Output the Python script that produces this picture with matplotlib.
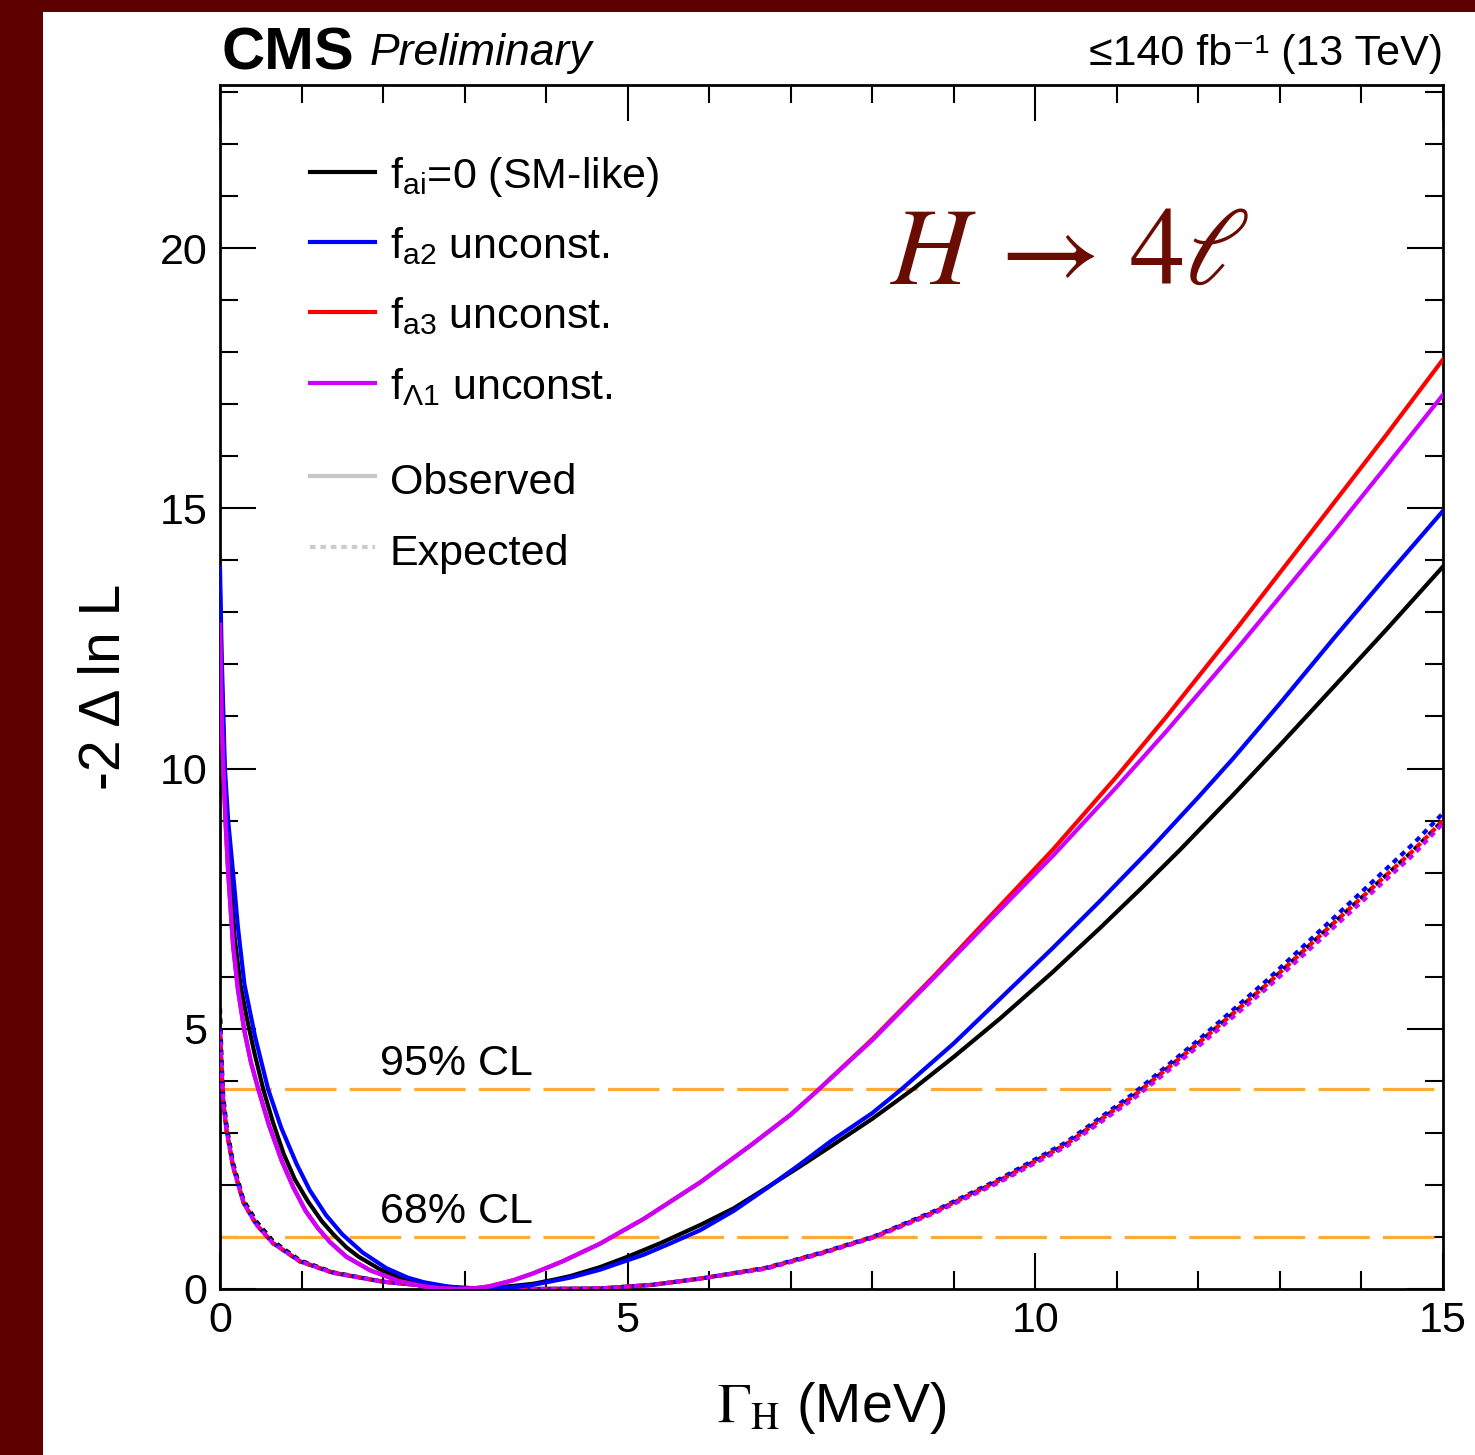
import numpy as np
import matplotlib
matplotlib.use("Agg")
import matplotlib.pyplot as plt
from matplotlib.patches import Rectangle
from matplotlib.lines import Line2D
from matplotlib.ticker import MultipleLocator

plt.rcParams['font.family'] = ['Liberation Sans', 'DejaVu Sans']
plt.rcParams['mathtext.fontset'] = 'custom'
plt.rcParams['mathtext.rm'] = 'Liberation Sans'
plt.rcParams['mathtext.it'] = 'Liberation Sans:italic'
plt.rcParams['mathtext.bf'] = 'Liberation Sans:bold'
plt.rcParams['lines.scale_dashes'] = False

# ---- observed scans (Gamma_H in MeV, -2 dlnL) ----
obs_sm_x = [0, 0.02, 0.05, 0.08, 0.12, 0.18, 0.25, 0.33, 0.42, 0.53, 0.65, 0.78, 0.92,
            1.08, 1.25, 1.39, 1.55, 1.7, 1.96, 2.2, 2.4, 2.6, 2.8, 3.05, 3.3, 3.6, 3.84,
            4.1, 4.3, 4.66, 5.0, 5.4, 5.89, 6.3, 6.7, 7.1, 7.5, 8.0, 8.5, 9.0, 9.57,
            10.2, 10.79, 11.3, 11.77, 12.43, 13.0, 13.66, 14.3, 15.0]
obs_sm_y = [13.4, 11.8, 10.2, 9.1, 8.0, 6.75, 5.85, 5.2, 4.55, 3.84, 3.2, 2.6, 2.1,
            1.68, 1.3, 1.05, 0.8, 0.62, 0.38, 0.22, 0.13, 0.07, 0.03, 0.0, 0.02, 0.06, 0.1,
            0.18, 0.25, 0.42, 0.62, 0.88, 1.23, 1.55, 1.94, 2.34, 2.75, 3.27, 3.84, 4.46, 5.2,
            6.07, 6.93, 7.7, 8.43, 9.5, 10.45, 11.57, 12.66, 13.88]

obs_a2_x = [0, 0.02, 0.06, 0.1, 0.16, 0.22, 0.3, 0.43, 0.59, 0.75, 0.94, 1.1, 1.3, 1.5,
            1.75, 2.04, 2.3, 2.5, 2.75, 2.95, 3.15, 3.5, 3.84, 4.3, 4.66, 5.2, 5.5, 5.89,
            6.3, 6.7, 7.1, 7.5, 8.0, 8.36, 9.0, 9.57, 10.2, 10.79, 11.41, 12.0, 12.43,
            13.0, 13.66, 14.3, 15.0]
obs_a2_y = [13.85, 12.2, 10.0, 9.0, 8.0, 6.95, 5.85, 4.85, 3.84, 3.1, 2.4, 1.9, 1.42, 1.05,
            0.7, 0.4, 0.22, 0.13, 0.06, 0.02, 0.0, 0.02, 0.08, 0.22, 0.37, 0.66, 0.86, 1.13,
            1.5, 1.93, 2.38, 2.85, 3.38, 3.84, 4.72, 5.58, 6.53, 7.45, 8.45, 9.45, 10.2,
            11.25, 12.5, 13.68, 14.95]

obs_a3_x = [0, 0.01, 0.02, 0.04, 0.07, 0.1, 0.16, 0.22, 0.3, 0.38, 0.47, 0.6, 0.76, 0.9,
            1.05, 1.2, 1.35, 1.55, 1.84, 2.2, 2.5, 2.7, 2.9, 3.1, 3.3, 3.6, 3.84, 4.2, 4.66,
            5.2, 5.89, 6.5, 7.0, 7.32, 8.0, 8.75, 9.5, 10.22, 11.0, 11.61, 12.5, 13.66,
            14.3, 15.0]
obs_a3_y = [12.76, 11.8, 11.0, 10.0, 8.9, 8.0, 6.6, 5.75, 4.95, 4.35, 3.84, 3.15, 2.45, 1.95,
            1.5, 1.17, 0.9, 0.62, 0.36, 0.15, 0.05, 0.015, 0.0, 0.01, 0.05, 0.17, 0.3, 0.53,
            0.87, 1.35, 2.05, 2.75, 3.35, 3.8, 4.8, 6.0, 7.25, 8.45, 9.85, 11.0, 12.75, 15.1,
            16.4, 17.86]

obs_L1_x = [0, 0.01, 0.02, 0.04, 0.07, 0.1, 0.16, 0.22, 0.3, 0.38, 0.47, 0.6, 0.76, 0.9,
            1.05, 1.2, 1.35, 1.55, 1.84, 2.2, 2.5, 2.7, 2.9, 3.1, 3.3, 3.6, 3.84, 4.2, 4.66,
            5.2, 5.89, 6.5, 7.0, 7.32, 8.0, 8.75, 9.5, 10.22, 11.0, 11.61, 12.5, 13.66,
            14.3, 15.0]
obs_L1_y = [12.76, 11.8, 11.0, 10.0, 8.9, 8.0, 6.6, 5.75, 4.95, 4.35, 3.84, 3.15, 2.45, 1.95,
            1.5, 1.17, 0.9, 0.62, 0.36, 0.15, 0.05, 0.015, 0.0, 0.01, 0.05, 0.17, 0.3, 0.53,
            0.87, 1.35, 2.05, 2.75, 3.35, 3.8, 4.78, 5.97, 7.18, 8.33, 9.65, 10.72, 12.35,
            14.55, 15.8, 17.18]

# ---- expected scans ----
exp_x = [0, 0.02, 0.04, 0.08, 0.16, 0.29, 0.45, 0.65, 0.98, 1.39, 2.0, 2.6, 3.2, 3.8,
         4.66, 5.3, 5.89, 6.7, 7.4, 8.02, 8.75, 9.57, 10.38, 11.2, 12.02, 12.84, 13.66,
         14.64, 15.0]
exp_sm_y = [5.4, 4.4, 3.7, 3.15, 2.42, 1.7, 1.29, 0.92, 0.55, 0.32, 0.14, 0.05, 0.01, 0.0,
            0.01, 0.08, 0.2, 0.4, 0.7, 1.0, 1.47, 2.09, 2.78, 3.7, 4.75, 5.85, 7.03, 8.43, 9.0]
exp_a2_y = [5.0, 4.2, 3.57, 3.05, 2.35, 1.65, 1.23, 0.88, 0.53, 0.31, 0.14, 0.05, 0.01, 0.0,
            0.01, 0.08, 0.2, 0.41, 0.71, 1.01, 1.49, 2.12, 2.82, 3.75, 4.81, 5.93, 7.13, 8.56, 9.14]
exp_a3_y = [5.0, 4.2, 3.57, 3.05, 2.35, 1.65, 1.23, 0.88, 0.53, 0.31, 0.14, 0.05, 0.01, 0.0,
            0.01, 0.08, 0.2, 0.4, 0.7, 1.0, 1.47, 2.09, 2.78, 3.7, 4.75, 5.85, 7.03, 8.43, 9.0]
exp_L1_y = [5.0, 4.2, 3.57, 3.05, 2.35, 1.65, 1.23, 0.88, 0.53, 0.31, 0.14, 0.05, 0.01, 0.0,
            0.01, 0.08, 0.2, 0.39, 0.69, 0.99, 1.45, 2.06, 2.74, 3.65, 4.69, 5.78, 6.95, 8.35, 8.95]

cl_levels = [1.0, 3.84]
cl_labels = ["68% CL", "95% CL"]

legend_labels = [r"f$_{\rm ai}$=0 (SM-like)", r"f$_{\rm a2}$ unconst.",
                 r"f$_{\rm a3}$ unconst.", r"f$_{\Lambda\rm 1}$ unconst."]
colors = ["black", "#0000ff", "#ff0000", "#cc00ff"]

W, H = 1475, 1455
fig = plt.figure(figsize=(W / 100, H / 100), dpi=100)
fig.patch.set_facecolor("#5c0000")
fig.patches.append(Rectangle((43 / W, 0), 1, 1 - 12 / H, transform=fig.transFigure,
                             facecolor="white", edgecolor="none", zorder=-10))

ax = fig.add_axes([220 / W, 1 - 1289 / H, 1223 / W, 1204 / H])
ymax = 1204 / 52.05
ax.set_xlim(0, 15)
ax.set_ylim(0, ymax)

# CL lines
for lev, lab in zip(cl_levels, cl_labels):
    ax.plot([0, 15], [lev, lev], color="#fbab3a", lw=2.3, dashes=(37, 9.5), zorder=2)
    ax.text(1.96, lev + 0.27, lab, fontsize=31, ha="left", va="baseline")

# expected (dashed, overlapping)
exp_curves = [exp_sm_y, exp_a2_y, exp_a3_y, exp_L1_y]
for i, (yy, c) in enumerate(zip(exp_curves, colors)):
    ax.plot(exp_x, yy, color=c, lw=3.0, linestyle=(i * 1.9, (4.0, 3.5)), zorder=3)

# observed
obs_curves = [(obs_sm_x, obs_sm_y), (obs_a2_x, obs_a2_y), (obs_a3_x, obs_a3_y), (obs_L1_x, obs_L1_y)]
for (xx, yy), c in zip(obs_curves, colors):
    ax.plot(xx, yy, color=c, lw=3.0, solid_joinstyle="round", zorder=4)

# axes style
for s in ax.spines.values():
    s.set_linewidth(2.0)
ax.xaxis.set_major_locator(MultipleLocator(5))
ax.xaxis.set_minor_locator(MultipleLocator(1))
ax.yaxis.set_major_locator(MultipleLocator(5))
ax.yaxis.set_minor_locator(MultipleLocator(1))
ax.tick_params(which="both", direction="in", top=True, right=True, width=1.5, labelsize=31)
ax.tick_params(which="major", length=26, pad=9)
ax.tick_params(which="minor", length=13)

ax.set_xlabel(r"$\Gamma_{\rm H}$ (MeV)", fontsize=40, labelpad=28,
              math_fontfamily="stix")
ax.set_ylabel("-2 \u0394 ln L", fontsize=41, labelpad=20)

# legend (drawn by hand)
leg_y = [0.9277, 0.8696, 0.8115, 0.7525]
for yy, c, lab in zip(leg_y, colors, legend_labels):
    ax.add_line(Line2D([0.0736, 0.1267], [yy, yy], color=c, lw=3.0, transform=ax.transAxes))
    ax.text(0.139, yy - 0.013, lab, fontsize=31, transform=ax.transAxes, va="baseline")
ax.add_line(Line2D([0.0736, 0.1267], [0.6753, 0.6753], color="#c8c8c8", lw=3.0,
                   transform=ax.transAxes))
ax.text(0.139, 0.6753 - 0.015, "Observed", fontsize=31, transform=ax.transAxes, va="baseline")
ax.add_line(Line2D([0.0736, 0.1267], [0.6163, 0.6163], color="#cccccc", lw=3.0,
                   dashes=(4, 3.5), transform=ax.transAxes))
ax.text(0.139, 0.6163 - 0.015, "Expected", fontsize=31, transform=ax.transAxes, va="baseline")

ax.text(0.548, 0.835, r"$H\,\rightarrow\,4\ell$", fontsize=79, color="#6b0c02",
        transform=ax.transAxes, math_fontfamily="stix", va="baseline")

# header
fig.text(222 / W, 1 - 70 / H, "CMS", fontsize=43, fontweight="bold", va="baseline")
fig.text(370 / W, 1 - 65 / H, "Preliminary", fontsize=32, style="italic", va="baseline")
fig.text(1443 / W, 1 - 65 / H, "\u2264140 fb\u207b\u00b9 (13 TeV)", fontsize=31,
         ha="right", va="baseline")

fig.savefig("out.png", dpi=100, facecolor=fig.get_facecolor())
